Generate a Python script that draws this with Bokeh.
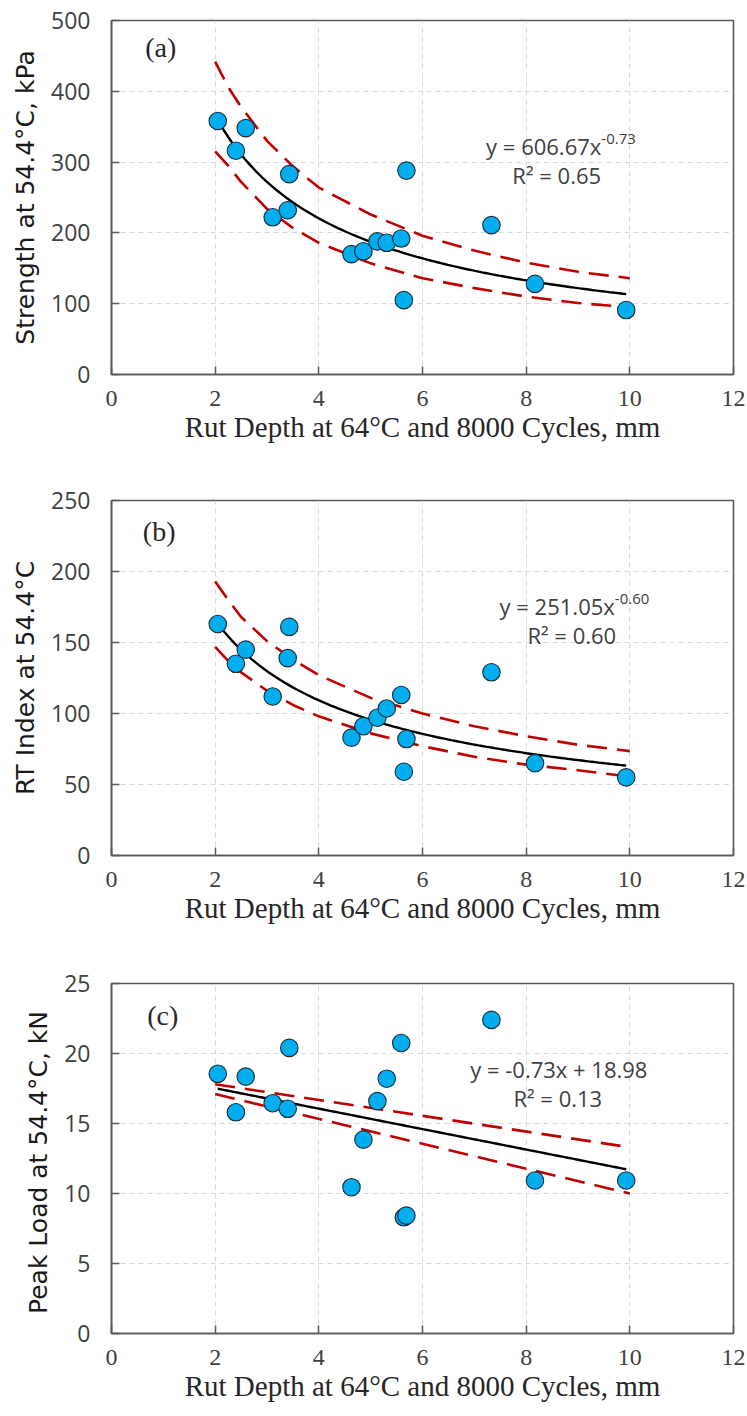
import numpy as np
from bokeh.plotting import figure
from bokeh.layouts import column
from bokeh.models import Range1d, FixedTicker, Label, ColumnDataSource
from bokeh.embed import file_html
from bokeh.resources import INLINE

# ---------------- data ----------------
rut_depth = [2.05, 2.40, 2.59, 3.11, 3.40, 3.43, 4.63, 4.86, 5.13, 5.31, 5.59, 5.64, 5.69, 7.33, 8.17, 9.93]
strength = [358, 316, 348, 222, 232, 283, 170, 174, 188, 186, 192, 105, 288, 211, 128, 91]
rt_index = [163, 135, 145, 112, 139, 161, 83, 91, 97, 103.5, 113, 59, 82, 129, 65, 55]
peak_load = [18.55, 15.8, 18.35, 16.45, 16.05, 20.4, 10.45, 13.85, 16.6, 18.2, 20.75, 8.3, 8.42, 22.4, 10.93, 10.93]

# trend-line coefficients printed on the chart
fit_a = (606.67, -0.73)   # power
fit_b = (251.05, -0.60)   # power
fit_c = (-0.73, 18.98)    # linear slope, intercept

# dashed confidence bands
band_x = [2.0, 2.25, 2.5, 3.0, 3.5, 4.0, 5.0, 6.0, 7.0, 8.0, 9.0, 10.0]
strength_upper = [442, 406, 378, 330, 294, 264, 226, 196, 175, 158, 145, 136]
strength_lower = [315, 295, 272, 234, 207, 186, 157, 136, 122, 110, 101, 95]
rt_upper = [193, 180, 168, 151, 138, 127, 111, 100, 91, 84, 78, 73.5]
rt_lower = [147, 137, 129, 116, 106, 98, 86, 77, 69.5, 64, 60, 55.5]
load_band_x = [2.0, 6.0, 10.0]
load_upper = [17.8, 15.55, 13.3]
load_lower = [17.1, 13.55, 10.0]

x_ticks = [0, 2, 4, 6, 8, 10, 12]
y_ticks_a = [0, 100, 200, 300, 400, 500]
y_ticks_b = [0, 50, 100, 150, 200, 250]
y_ticks_c = [0, 5, 10, 15, 20, 25]

x_title = "Rut Depth at 64°C and 8000 Cycles, mm"
y_titles = ["Strength at 54.4°C, kPa", "RT Index at 54.4°C", "Peak Load at 54.4°C,  kN"]
panel_tags = ["(a)", "(b)", "(c)"]
eq_main = ["y = 606.67x", "y = 251.05x", "y = -0.73x + 18.98"]
eq_sup = ["-0.73", "-0.60", ""]
r2_text = ["R² = 0.65", "R² = 0.60", "R² = 0.13"]

FRAME = "#595959"
GRID = "#d9d9d9"
POINT_FILL = "#00AEEF"
POINT_LINE = "#1b2b3b"
BAND = "#C00000"
TXT = "#404040"


def make_panel(height, top, bottom, ymax, yticks, ytitle, tag, tag_xy,
               yvals, upper_x, upper, lower, fit_x, fit_y,
               eq_xy, eq_text, sup_text, r2_xy, r2):
    p = figure(width=747, height=height, output_backend="svg", toolbar_location=None,
               x_range=Range1d(0, 12), y_range=Range1d(0, ymax),
               min_border_left=111, min_border_right=14,
               min_border_top=top, min_border_bottom=bottom)
    p.background_fill_color = "white"
    p.border_fill_color = "white"
    p.outline_line_color = FRAME
    p.outline_line_width = 1.6

    for ax in (p.xaxis[0], p.yaxis[0]):
        ax.axis_line_color = FRAME
        ax.axis_line_width = 1.6
        ax.major_tick_line_color = FRAME
        ax.major_tick_line_width = 1.5
        ax.major_tick_in = 8
        ax.major_tick_out = 0
        ax.minor_tick_line_color = None
        ax.major_label_text_color = TXT

    p.xaxis.ticker = FixedTicker(ticks=x_ticks)
    p.yaxis.ticker = FixedTicker(ticks=yticks)
    p.xaxis.major_label_text_font = "Liberation Serif"
    p.xaxis.major_label_text_font_size = "24px"
    p.xaxis.major_label_standoff = 16
    p.yaxis.major_label_text_font = "Open Sans"
    p.yaxis.major_label_text_font_size = "23px"
    p.yaxis.major_label_standoff = 21

    p.xaxis.axis_label = x_title
    p.xaxis.axis_label_text_font = "Liberation Serif"
    p.xaxis.axis_label_text_font_size = "29px"
    p.xaxis.axis_label_text_font_style = "normal"
    p.xaxis.axis_label_text_color = "#262626"
    p.xaxis.axis_label_standoff = 2

    p.yaxis.axis_label = ytitle
    p.yaxis.axis_label_text_font = "DejaVu Sans"
    p.yaxis.axis_label_text_font_size = "25px"
    p.yaxis.axis_label_text_font_style = "normal"
    p.yaxis.axis_label_text_color = "#1a1a1a"
    p.yaxis.axis_label_standoff = 8

    p.xgrid.ticker = FixedTicker(ticks=x_ticks)
    p.ygrid.ticker = FixedTicker(ticks=yticks)
    for g in (p.xgrid[0], p.ygrid[0]):
        g.grid_line_color = GRID
        g.grid_line_dash = "5 4"
        g.grid_line_width = 1

    # confidence bands
    p.line(upper_x, upper, line_color=BAND, line_width=2.6, line_dash="20 10")
    p.line(upper_x, lower, line_color=BAND, line_width=2.6, line_dash="20 10")
    # trend line
    p.line(fit_x, fit_y, line_color="black", line_width=2.4)
    # points
    src = ColumnDataSource(dict(x=rut_depth, y=yvals))
    p.scatter("x", "y", source=src, size=17.5, fill_color=POINT_FILL,
              line_color=POINT_LINE, line_width=1.1)

    p.add_layout(Label(x=tag_xy[0], y=tag_xy[1], text=tag, text_font="Liberation Serif",
                       text_font_size="28px", text_color="#262626",
                       text_align="center", text_baseline="middle"))
    if sup_text:
        p.add_layout(Label(x=eq_xy[0], y=eq_xy[1], text=eq_text, text_font="Open Sans",
                           text_font_size="22px", text_color=TXT,
                           text_align="right", text_baseline="middle"))
        p.add_layout(Label(x=eq_xy[0], y=eq_xy[1], y_offset=7, text=sup_text,
                           text_font="Open Sans", text_font_size="15px", text_color=TXT,
                           text_align="left", text_baseline="middle"))
    else:
        p.add_layout(Label(x=eq_xy[0], y=eq_xy[1], text=eq_text, text_font="Open Sans",
                           text_font_size="22px", text_color=TXT,
                           text_align="center", text_baseline="middle"))
    p.add_layout(Label(x=r2_xy[0], y=r2_xy[1], text=r2, text_font="Open Sans",
                       text_font_size="22px", text_color=TXT,
                       text_align="center", text_baseline="middle"))
    return p


fx = np.linspace(min(rut_depth), max(rut_depth), 120)
fit_a_y = fit_a[0] * fx ** fit_a[1]
fit_b_y = fit_b[0] * fx ** fit_b[1]
fit_c_y = fit_c[0] * fx + fit_c[1]

pa = make_panel(480, 20, 106, 500, y_ticks_a, y_titles[0], panel_tags[0], (0.95, 462),
                strength, band_x, strength_upper, strength_lower, fx, fit_a_y,
                (9.45, 323), eq_main[0], eq_sup[0], (8.59, 282), r2_text[0])
pb = make_panel(483, 20, 108, 250, y_ticks_b, y_titles[1], panel_tags[1], (0.92, 228),
                rt_index, band_x, rt_upper, rt_lower, fx, fit_b_y,
                (9.71, 176), eq_main[1], eq_sup[1], (8.88, 155.6), r2_text[1])
pc = make_panel(453, 20, 83, 25, y_ticks_c, y_titles[2], panel_tags[2], (0.99, 22.7),
                peak_load, load_band_x, load_upper, load_lower, fx, fit_c_y,
                (8.63, 18.9), eq_main[2], eq_sup[2], (8.61, 16.85), r2_text[2])

layout = column(pa, pb, pc, spacing=0)
open("out.html", "w").write(file_html(layout, INLINE))
